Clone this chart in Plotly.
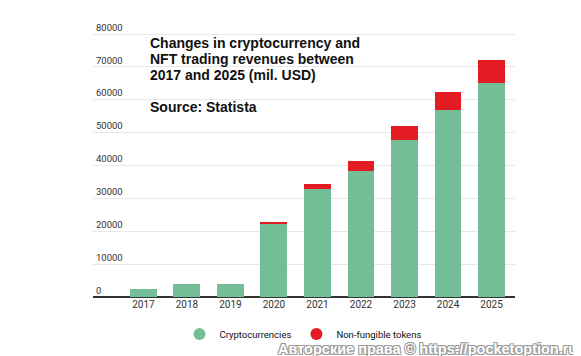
import plotly.graph_objects as go

years = ["2017", "2018", "2019", "2020", "2021", "2022", "2023", "2024", "2025"]
crypto = [2300, 4100, 4100, 22500, 32800, 38400, 47900, 56850, 65150]
nft = [0, 0, 0, 300, 1500, 2850, 4150, 5400, 6900]
y_ticks = [0, 10000, 20000, 30000, 40000, 50000, 60000, 70000, 80000]
title_lines = ["Changes in cryptocurrency and",
               "NFT trading revenues between",
               "2017 and 2025 (mil. USD)"]
source_text = "Source: Statista"
legend_names = ["Cryptocurrencies", "Non-fungible tokens"]
watermark = "Авторские права © https://pocketoption.ru"

GREEN = "#74BE97"
RED = "#E31B23"

OFF = 8  # page body margin
W, H = 581 - OFF, 356 - OFF
# target page-pixel geometry
P_LEFT, P_RIGHT, P_TOP, P_BOTTOM = 93, 515, 14, 297
L = P_LEFT - OFF
R = W - (P_RIGHT - OFF)
T = P_TOP - OFF
B = H - (P_BOTTOM - OFF)
PW, PH = P_RIGHT - P_LEFT, P_BOTTOM - P_TOP
Y_MAX = 80000 * PH / (P_BOTTOM - 34)

def px_x(px):
    return (px - P_LEFT) / PW

def px_y(py):
    return (P_BOTTOM - py) / PH

fig = go.Figure()
fig.add_trace(go.Bar(x=years, y=crypto, marker=dict(color=GREEN, line=dict(width=0)),
                     showlegend=False, name=legend_names[0]))
fig.add_trace(go.Bar(x=years, y=nft, marker=dict(color=RED, line=dict(width=0)),
                     showlegend=False, name=legend_names[1]))
for nm, col in zip(legend_names, [GREEN, RED]):
    fig.add_trace(go.Scatter(x=[None], y=[None], mode="markers", name=nm,
                             marker=dict(color=col, size=13, symbol="circle")))

fig.update_layout(
    width=W, height=H,
    margin=dict(l=L, r=R, t=T, b=B, pad=0, autoexpand=False),
    paper_bgcolor="white", plot_bgcolor="white",
    barmode="stack", bargap=0.38,
    font=dict(family="Roboto", color="#333333", size=10),
    legend=dict(orientation="h", traceorder="normal",
                xref="container", yref="container",
                x=(303 - OFF) / W, xanchor="center",
                y=(H - (334 - OFF)) / H, yanchor="middle",
                font=dict(family="Roboto", size=9.5, color="#111111"),
                itemsizing="constant", bgcolor="rgba(0,0,0,0)"),
    xaxis=dict(type="category", range=[-1.16, 8.54], showgrid=False, showline=False,
               ticks="", tickfont=dict(size=10, color="#333333"), fixedrange=True),
    yaxis=dict(range=[0, Y_MAX], tickvals=y_ticks, ticktext=[str(v) for v in y_ticks],
               showgrid=True, gridcolor="#E8E8E8", gridwidth=1,
               zeroline=True, zerolinecolor="#333333", zerolinewidth=2,
               showline=False, ticks="", ticklabelposition="inside top",
               tickfont=dict(size=9.5, color="#333333")),
)

title_y = [43, 59, 75]
for txt, cy in zip(title_lines, title_y):
    fig.add_annotation(text="<b>%s</b>" % txt, xref="paper", yref="paper",
                       x=px_x(148), y=px_y(cy), xanchor="left", yanchor="middle",
                       showarrow=False,
                       font=dict(family="Liberation Sans", size=14, color="#111111"))
fig.add_annotation(text="<b>%s</b>" % source_text, xref="paper", yref="paper",
                   x=px_x(148), y=px_y(107), xanchor="left", yanchor="middle",
                   showarrow=False,
                   font=dict(family="Liberation Sans", size=14, color="#111111"))

fig.add_annotation(text=watermark, xref="paper", yref="paper",
                   x=px_x(579), y=px_y(348.5), xanchor="right", yanchor="middle",
                   showarrow=False,
                   font=dict(family="Liberation Sans", size=14.5, color="#FFFFFF",
                             weight="bold",
                             shadow="-1px -1px 0 #999, 1px -1px 0 #999, -1px 1px 0 #999, 1px 1px 0 #999"))

fig.write_html("out.html")
